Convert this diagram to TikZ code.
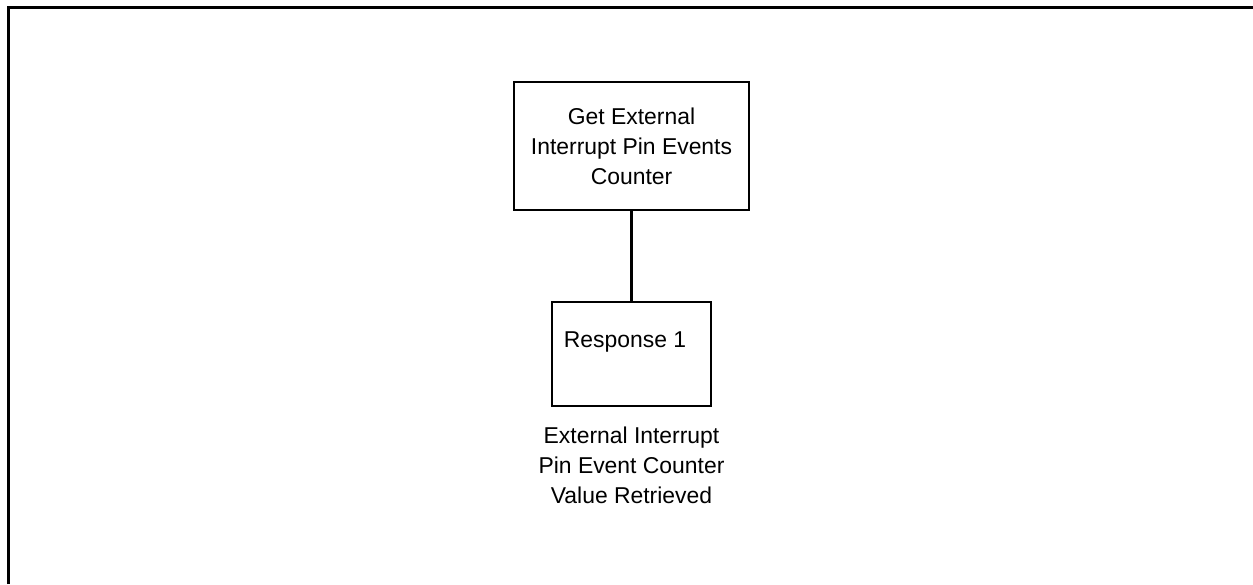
\documentclass[tikz,border=0pt]{standalone}
\usepackage{fontspec}
\setmainfont{Liberation Sans}
\usepackage{tikz}
\usetikzlibrary{positioning}
\usetikzlibrary{calc}

\tikzset{
  cmdbox/.style={draw, line width=2.2pt, minimum width=235pt, minimum height=128pt, align=center, inner sep=0pt},
  respbox/.style={draw, line width=2.2pt, minimum width=159pt, minimum height=104pt, inner sep=0pt},
  note/.style={align=center, inner sep=0pt}
}

\begin{document}
\begin{tikzpicture}[x=1pt, y=-1pt, font=\fontsize{22.9}{30}\selectfont]
    \useasboundingbox (0,0) rectangle (1253,584);

    % frame
    \coordinate (f0) at (8.5,584);
    \coordinate (f1) at (8.5,7.5);
    \coordinate (f2) at (1253,7.5);
    \draw [line width=2.2pt] (f0) -- (f1) -- (f2);

    \node [cmdbox] (get) at (631.5,146) {Get External\\Interrupt Pin Events\\Counter};
    \node [respbox, below=90pt of get] (resp) {};
    \node [note] (resptxt) at (625,342) {Response 1};
    \node [note, below=19pt of resp] (result) {External Interrupt\\Pin Event Counter\\Value Retrieved};

    \draw [line width=2.2pt] (get) -- (resp);
\end{tikzpicture}
\end{document}
